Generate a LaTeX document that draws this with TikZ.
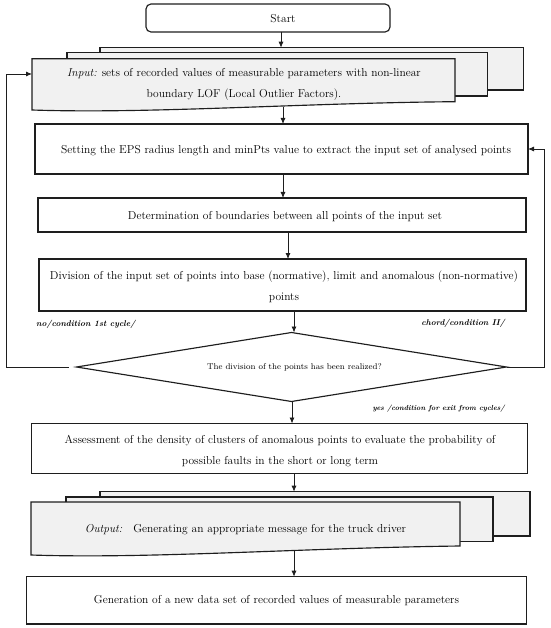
\documentclass[tikz,border=0pt]{standalone}
\usetikzlibrary{arrows.meta,shapes.geometric}
\definecolor{ln}{HTML}{1E1E1E}
\definecolor{stk}{HTML}{F1F1F1}
\begin{document}
\begin{tikzpicture}[x=1pt,y=-1pt,
  box/.style={draw=ln, line width=1.15pt, fill=white, inner sep=0pt, outer sep=0pt},
  stackbox/.style={draw=ln, line width=1.15pt, fill=stk, inner sep=0pt, outer sep=0pt},
  arr/.style={-{Latex[length=6pt,width=5pt]}, line width=0.8pt, draw=ln},
  txt/.style={inner sep=0pt, align=center, font=\fontsize{11.5}{20.5}\selectfont},
  dtxt/.style={inner sep=0pt, font=\fontsize{8.4}{10}\selectfont},
  lbl/.style={inner sep=0pt, font=\fontsize{8.4}{10}\selectfont\bfseries\itshape},
  slbl/.style={inner sep=0pt, font=\fontsize{7.3}{9}\selectfont\bfseries\itshape}]
\useasboundingbox (0,0) rectangle (550,628);

% coordinates for arrow columns
\coordinate (a1) at (281,0);
\coordinate (a2) at (283,0);
\coordinate (a3) at (288,0);
\coordinate (a4) at (294,0);
\coordinate (a5) at (292,0);
\coordinate (lfb) at (6,0);
\coordinate (rfb) at (544,0);

% Start
\node[box, rounded corners=5pt, minimum width=244pt, minimum height=28pt] (start) at (268,18) {};
\node[txt] (starttxt) at (283,19) {Start};

% Input stack
\node[stackbox, minimum width=423.3pt, minimum height=42.3pt] (inback) at (311.65,68.85) {};
\node[stackbox, minimum width=420.3pt, minimum height=43.3pt] (inmid) at (277.15,74.35) {};
\draw[stackbox] (32,58.7) -- (455,58.7) -- (455,101.7) .. controls (300,103) and (150,114) .. (32,110) -- cycle;
\node[txt] (in) at (244,84.5) {\textit{Input:} sets of recorded values of measurable parameters with non-linear\\boundary LOF (Local Outlier Factors).};
\coordinate (inL) at (32,74);
\coordinate (inB) at (283,107.5);

% Process boxes
\node[box, minimum width=493pt, minimum height=50pt] (set) at (281.5,149) {};
\node[txt] (settxt) at (286,151) {Setting the EPS radius length and minPts value to extract the input set of analysed points};

\node[box, minimum width=488pt, minimum height=34pt] (det) at (282,215) {};
\node[txt] (dettxt) at (285,216.5) {Determination of boundaries between all points of the input set};

\node[box, minimum width=487pt, minimum height=52pt] (div) at (282.5,285) {};
\node[txt] (divtxt) at (284,287) {Division of the input set of points into base (normative), limit and anomalous (non-normative)\\points};

% Decision
\node[draw=ln, line width=1.15pt, shape=diamond, inner sep=0pt, outer sep=0pt, minimum width=430pt, minimum height=69pt] (dia) at (291.5,367) {};
\node[dtxt] (diatxt) at (294.5,367.5) {The division of the points has been realized?};

\node[lbl, anchor=west] (nolbl) at (36,324) {no/condition 1st cycle/};
\node[lbl, anchor=east] (chlbl) at (505,323) {chord/condition II/};
\node[slbl, anchor=east] (yeslbl) at (505,409) {yes /condition for exit from cycles/};

\node[box, minimum width=496pt, minimum height=50pt] (ass) at (279.5,448.5) {};
\node[txt] (asstxt) at (280,451) {Assessment of the density of clusters of anomalous points to evaluate the probability of\\possible faults in the short or long term};

% Output stack
\node[stackbox, minimum width=430pt, minimum height=44.3pt] (outback) at (315,513.85) {};
\node[stackbox, minimum width=427pt, minimum height=44.7pt] (outmid) at (279.5,519.35) {};
\draw[stackbox] (31,502) -- (460,502) -- (460,546) .. controls (300,548) and (150,559) .. (31,555) -- cycle;
\node[txt] (out) at (245.5,530) {\textit{Output:}\hspace{11pt}Generating an appropriate message for the truck driver};
\coordinate (outB) at (294,551);

\node[box, minimum width=500pt, minimum height=47.3pt] (gen) at (276.3,600.35) {};
\node[txt] (gentxt) at (276.5,601) {Generation of a new data set of recorded values of measurable parameters};

% Connectors
\draw[arr] (start.south -| a1) -- (inback.north -| a1);
\draw[arr] (inB) -- (set.north -| a2);
\draw[arr] (set.south -| a2) -- (det.north -| a2);
\draw[arr] (det.south -| a3) -- (div.north -| a3);
\draw[arr] (div.south -| a4) -- (dia.north -| a4);
\draw[arr] (dia.south -| a5) -- (ass.north -| a5);
\draw[arr] (ass.south -| a4) -- (outback.north -| a4);
\draw[arr] (outB) -- (gen.north -| outB);

% Feedback loops
\draw[arr] ([xshift=-8pt]dia.west) -| (inL -| lfb) -- (inL);
\draw[arr] (dia.east) -| (rfb |- set.east) -- (set.east);
\end{tikzpicture}
\end{document}
